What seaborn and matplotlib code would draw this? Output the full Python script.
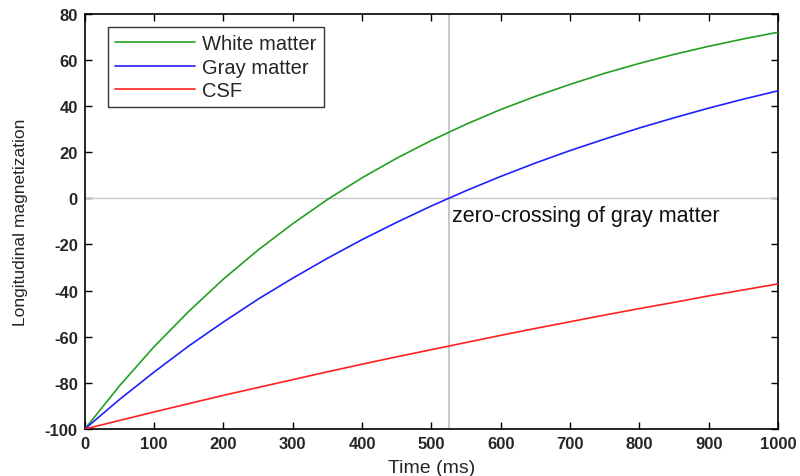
import matplotlib
matplotlib.use("Agg")
import matplotlib.pyplot as plt
import seaborn as sns
import pandas as pd

# Inversion-recovery longitudinal magnetization, sampled every 50 ms
time_ms = [0, 50, 100, 150, 200, 250, 300, 350, 400, 450, 500,
           550, 600, 650, 700, 750, 800, 850, 900, 950, 1000]
white_matter = [-100.0, -81.3, -64.3, -49.0, -35.0, -22.4, -11.0, -0.5, 8.9, 17.4, 25.1,
                32.1, 38.5, 44.2, 49.4, 54.2, 58.5, 62.4, 65.9, 69.1, 72.0]
gray_matter = [-100.0, -87.2, -75.3, -64.0, -53.6, -43.7, -34.6, -26.0, -17.9, -10.4, -3.3,
               3.3, 9.5, 15.3, 20.7, 25.7, 30.5, 34.9, 39.1, 43.0, 46.6]
csf = [-100.0, -96.3, -92.6, -89.0, -85.4, -82.0, -78.6, -75.2, -71.9, -68.7, -65.6,
       -62.5, -59.4, -56.4, -53.5, -50.6, -47.8, -45.1, -42.3, -39.7, -37.1]
tissue_names = ["White matter", "Gray matter", "CSF"]
tissue_colors = ["#22a022", "#2020ff", "#ff2020"]
gm_zero_crossing = 525

sns.set_theme(style="ticks")
plt.rcParams["font.family"] = ["Liberation Sans", "DejaVu Sans"]
plt.rcParams["axes.unicode_minus"] = False

frames = []
for name, vals in zip(tissue_names, [white_matter, gray_matter, csf]):
    frames.append(pd.DataFrame({"Time (ms)": time_ms, "M": vals, "Tissue": name}))
df = pd.concat(frames, ignore_index=True)

fig = plt.figure(figsize=(8.0, 4.77), dpi=100)
ax = fig.add_axes([0.106, 0.0985, 0.8665, 0.8705])

# reference lines
ax.axhline(0, color="#c8c8c8", lw=1.0, zorder=1)
ax.axvline(gm_zero_crossing, color="#c8c8c8", lw=1.5, zorder=1)

sns.lineplot(data=df, x="Time (ms)", y="M", hue="Tissue",
             hue_order=tissue_names, palette=tissue_colors,
             linewidth=1.2, ax=ax, zorder=3)

ax.text(gm_zero_crossing + 4, -3, "zero-crossing of gray matter",
        fontsize=15.5, ha="left", va="top", color="#111111")

ax.set_xlim(0, 1000)
ax.set_ylim(-100, 80)
ax.set_xticks(range(0, 1001, 100))
ax.set_yticks(range(-100, 81, 20))
ax.tick_params(direction="in", length=5, width=1, top=True, right=True,
               labelsize=12, pad=5, color="black")
for lab in ax.get_xticklabels() + ax.get_yticklabels():
    lab.set_fontweight("bold")
for sp in ax.spines.values():
    sp.set_visible(True)
    sp.set_color("black")
    sp.set_linewidth(1.2)

ax.set_xlabel("Time (ms)", fontsize=14, labelpad=6)
ax.set_ylabel("Longitudinal magnetization", fontsize=12.5, labelpad=12)

leg = ax.legend(loc="upper left", bbox_to_anchor=(0.033, 0.968), fontsize=14.5,
                frameon=True, fancybox=False, handlelength=4.0,
                borderpad=0.35, labelspacing=0.22, handletextpad=0.35,
                borderaxespad=0)
leg.get_frame().set_edgecolor("black")
leg.get_frame().set_linewidth(1.0)

fig.savefig("out.png", dpi=100, facecolor="white")
